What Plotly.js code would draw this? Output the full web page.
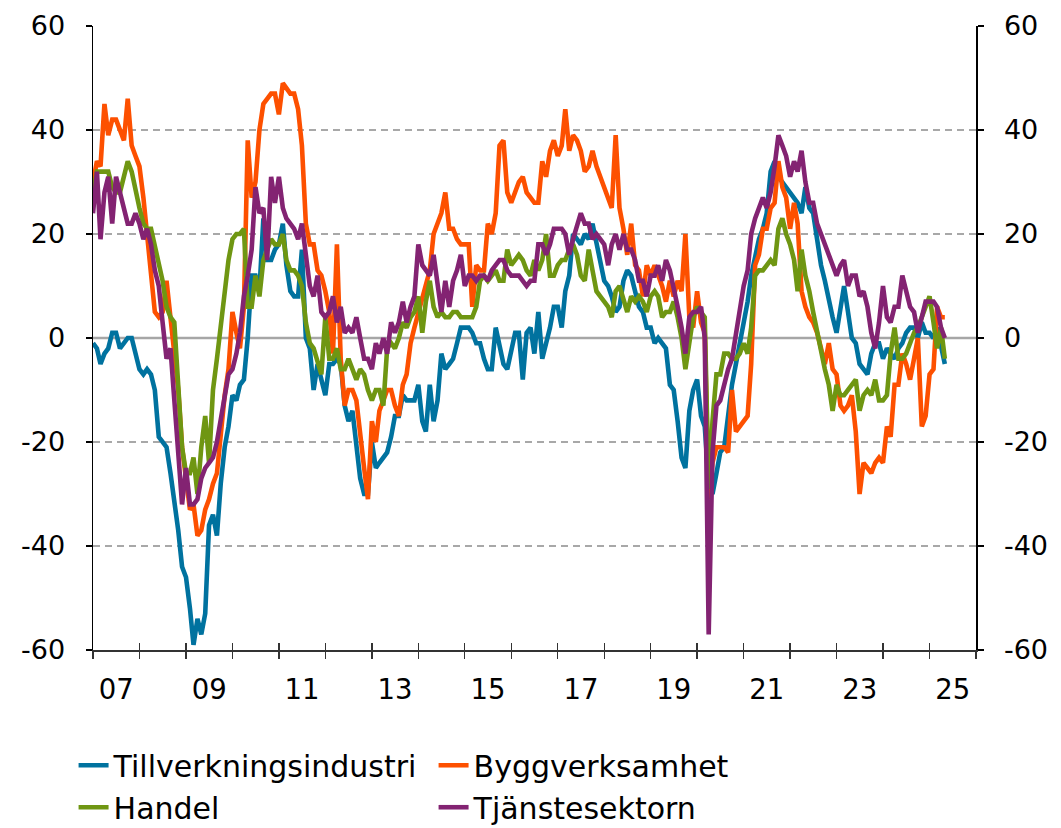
<!DOCTYPE html>
<html><head><meta charset="utf-8">
<script src="https://cdn.plot.ly/plotly-3.0.1.min.js"></script>
<style>body{margin:0;background:#fff}#chart{width:1061px;height:828px}</style>
</head><body><div id="chart"></div>
<script>
const startYear = 2007;
const tillverkningsindustri = [
 -1,-2,-5,-3,-2,1,1,-2,-1,0,0,-3,
 -6,-7,-6,-7,-10,-19,-20,-21,-26,-31,-37,-44,
 -46,-52,-59,-54,-57,-53,-36,-34,-38,-28,-21,-17,
 -11,-12,-9,-8,0,12,12,9,23,15,15,17,
 18,22,14,9,8,8,17,0,-2,-10,-5,-8,
 -11,-5,-5,-4,-5,-13,-16,-14,-21,-27,-30,-30,
 -20,-25,-24,-23,-22,-19,-15,-15,-11,-12,-12,-12,
 -9,-16,-18,-9,-16,-12,-3,-6,-5,-4,-1,2,
 2,2,1,-1,-1,-4,-6,-6,2,-2,-5,-6,
 -2,1,1,-8,1,2,-3,5,-4,-1,2,6,
 6,2,9,12,20,19,18,20,19,22,18,14,
 11,10,8,5,6,11,13,12,9,6,5,2,
 2,-1,0,-1,-2,-9,-10,-16,-23,-25,-14,-10,
 -8,-15,-17,-28,-30,-26,-22,-21,-15,-9,-5,-1,
 3,7,12,16,19,21,24,32,34,31,30,29,
 28,27,26,24,29,25,24,19,14,11,7,4,
 1,6,10,5,0,-1,-5,-6,-7,-3,-1,-1,
 -4,-2,-3,-4,-2,-1,1,2,2,0,3,1,
 1,0,2,-2,-5
];
const byggverksamhet = [
 30,34,33,45,39,42,42,40,38,46,37,35,
 33,27,20,14,5,4,5,11,4,-4,-10,-21,
 -28,-33,-32,-38,-37,-33,-31,-28,-26,-18,-11,-6,
 5,1,-2,6,38,27,30,40,45,46,47,47,
 43,49,48,47,47,44,37,22,18,18,13,12,
 9,5,-3,18,-4,-13,-10,-10,-12,-19,-25,-31,
 -16,-20,-14,-12,-10,-10,-13,-15,-9,-7,-1,2,
 5,8,10,13,20,22,24,28,21,21,19,18,
 18,18,6,14,13,13,22,20,24,37,38,28,
 26,28,30,31,28,27,26,26,34,31,36,38,
 35,37,44,36,39,38,36,32,33,36,33,31,
 29,27,25,39,25,21,16,22,14,13,8,14,
 12,14,12,10,7,11,8,11,9,20,4,2,
 9,3,1,-31,-24,-21,-21,-21,-22,-10,-18,-17,
 -16,-15,-5,14,16,21,21,25,26,34,29,27,
 21,26,22,9,6,4,3,1,-2,-5,-1,-6,
 -7,-13,-14,-13,-11,-18,-30,-24,-25,-26,-24,-23,
 -24,-17,-19,-9,-9,-3,-5,-8,-4,0,-17,-15,
 -7,-6,6,4,4
];
const handel = [
 28,32,32,32,32,29,28,28,31,34,32,28,
 25,22,21,21,18,14,11,6,4,3,-9,-21,
 -26,-26,-23,-30,-21,-15,-24,-10,-4,2,9,15,
 19,20,20,21,6,6,12,8,15,17,19,18,
 18,20,15,13,13,12,10,3,-1,-2,-5,-7,
 4,-4,-4,-2,-6,-6,-4,-6,-8,-6,-7,-10,
 -12,-10,-10,-13,-2,-1,-2,0,3,2,4,5,
 8,1,7,11,6,4,5,4,4,5,5,4,
 4,4,4,6,11,12,11,12,13,11,11,17,
 14,15,16,15,13,12,15,13,15,20,12,12,
 14,15,15,17,18,16,12,11,17,13,9,8,
 7,6,4,9,10,7,5,8,7,8,7,5,
 8,9,8,4,5,5,7,4,0,-6,-1,4,
 6,5,4,-29,-16,-7,-7,-3,-3,-4,-4,-3,
 -1,-3,2,12,13,13,14,15,14,21,23,20,
 18,15,9,17,12,9,5,1,-3,-6,-9,-14,
 -9,-11,-11,-10,-9,-8,-14,-11,-10,-11,-8,-12,
 -12,-11,-3,2,-4,-4,-3,-1,1,2,4,6,
 8,3,-2,2,-4
];
const tjanstesektorn = [
 24,32,19,28,31,22,31,28,25,22,22,24,
 22,19,21,18,13,10,3,-4,-2,-12,-21,-32,
 -25,-32,-32,-31,-27,-25,-24,-23,-20,-16,-11,-7,
 -6,-3,1,8,12,17,29,24,25,15,31,26,
 31,25,23,22,21,19,22,16,10,8,12,5,
 4,5,8,3,6,1,2,1,4,0,-4,-4,
 -6,-1,-3,0,-3,3,1,3,7,3,6,8,
 18,14,13,12,16,10,5,11,6,11,13,16,
 10,12,12,11,12,12,11,13,14,15,15,13,
 12,12,12,11,10,11,11,18,18,16,18,21,
 21,21,20,16,19,22,24,22,22,19,20,19,
 18,14,18,20,17,20,17,17,15,11,11,8,
 12,12,14,11,15,13,10,6,2,-3,4,5,
 5,6,0,-57,-22,-13,-12,-9,-6,-4,1,6,
 10,13,20,23,25,27,25,28,33,39,37,35,
 31,34,32,36,30,26,26,22,20,18,16,14,
 12,14,15,10,12,12,8,9,6,1,-2,3,
 10,4,3,6,6,12,9,6,5,1,4,7,
 7,7,6,2,0
];
const seriesNames = ['Tillverkningsindustri','Byggverksamhet','Handel','Tjänstesektorn'];
const seriesColors = ['#00729f','#fd5000','#6f9612','#832372'];
const yTickVals = [-60,-40,-20,0,20,40,60];
const gridVals = [-40,-20,20,40];
const labelYears = [2007,2009,2011,2013,2015,2017,2019,2021,2023,2025];
const labelTexts = ['07','09','11','13','15','17','19','21','23','25'];
const tickYears = [2007,2008,2009,2010,2011,2012,2013,2014,2015,2016,2017,2018,2019,2020,2021,2022,2023,2024,2025,2026];

function monthDate(i){
  const y = startYear + Math.floor(i/12);
  const m = i % 12 + 1;
  return y + '-' + String(m).padStart(2,'0') + '-01';
}
const dates = tillverkningsindustri.map((_, i) => monthDate(i));
const allSeries = [tillverkningsindustri, byggverksamhet, handel, tjanstesektorn];

const FONT = 'Verdana, "DejaVu Sans", sans-serif';
const traces = allSeries.map((vals, k) => ({
  type: 'scatter', mode: 'lines', x: dates, y: vals, name: seriesNames[k],
  line: {color: seriesColors[k], width: 4.6}, xaxis: 'x', yaxis: 'y'
}));
traces.push({type:'scatter', mode:'lines', x: [dates[0]], y:[0], yaxis:'y2', xaxis:'x', showlegend:false, hoverinfo:'skip', line:{color:'rgba(0,0,0,0)'}});
traces.push({type:'scatter', mode:'lines', x:[dates[0]], y:[0], xaxis:'x2', yaxis:'y', showlegend:false, hoverinfo:'skip', line:{color:'rgba(0,0,0,0)'}});
traces.push({type:'scatter', mode:'lines', x:[dates[0]], y:[0], xaxis:'x3', yaxis:'y', showlegend:false, hoverinfo:'skip', line:{color:'rgba(0,0,0,0)'}});

const xRange = ['2007-01-01', '2026-01-01'];
const shapes = gridVals.map(v => ({
  type:'line', xref:'paper', x0:0, x1:1, yref:'y', y0:v, y1:v, layer:'below',
  line:{color:'#8c8c8c', width:1.5, dash:'7px,5px'}
}));
shapes.push({type:'line', xref:'paper', x0:0, x1:1, yref:'y', y0:0, y1:0, layer:'below', line:{color:'#a6a6a6', width:2.5}});

const yCommon = {
  range:[-60,60], tickvals: yTickVals, ticktext: yTickVals.map(String),
  ticks:'outside', ticklen:6, tickwidth:1.3, tickcolor:'#000',
  showline:true, linecolor:'#000', linewidth:1.5, showgrid:false, zeroline:false,
  tickfont:{family:FONT, size:27, color:'#000'}, ticklabelstandoff: 15, fixedrange:true
};

const layout = {
  width:1061, height:828,
  margin:{l:93, r:85, t:26, b:178, autoexpand:false},
  paper_bgcolor:'#fff', plot_bgcolor:'#fff',
  showlegend:true,
  font:{family:FONT, color:'#000'},
  xaxis:{type:'date', range:xRange, tickvals: tickYears.map(y=>y+'-01-01'), ticks:'outside', ticklen:7, tickwidth:1.3, tickcolor:'#333',
    showticklabels:false, showline:true, linecolor:'#333', linewidth:1.5, showgrid:false, zeroline:false},
  xaxis2:{type:'date', overlaying:'x', range:xRange, tickvals: tickYears.map(y=>y+'-01-01'), ticks:'inside', ticklen:7, tickwidth:1.3, tickcolor:'#333',
    showticklabels:false, showline:false, showgrid:false, zeroline:false, side:'bottom'},
  xaxis3:{type:'date', overlaying:'x', range:xRange, tickvals: labelYears.map(y=>y+'-07-02'), ticktext: labelTexts, ticks:'',
    showline:false, showgrid:false, zeroline:false, side:'bottom', tickfont:{family:FONT, size:27.5, color:'#000'}, ticklabelstandoff: 20},
  yaxis: Object.assign({side:'left'}, yCommon),
  yaxis2: Object.assign({side:'right', overlaying:'y'}, yCommon),
  shapes: shapes,
  legend:{orientation:'h', x:-0.022, xanchor:'left', y:-0.143, yanchor:'top',
    font:{family:FONT, size:30, color:'#000'}, entrywidth:315, entrywidthmode:'pixels',
    itemwidth:30, tracegroupgap:0, bgcolor:'rgba(0,0,0,0)'}
};

Plotly.newPlot('chart', traces, layout, {staticPlot:true, displayModeBar:false});
</script>
</body></html>
